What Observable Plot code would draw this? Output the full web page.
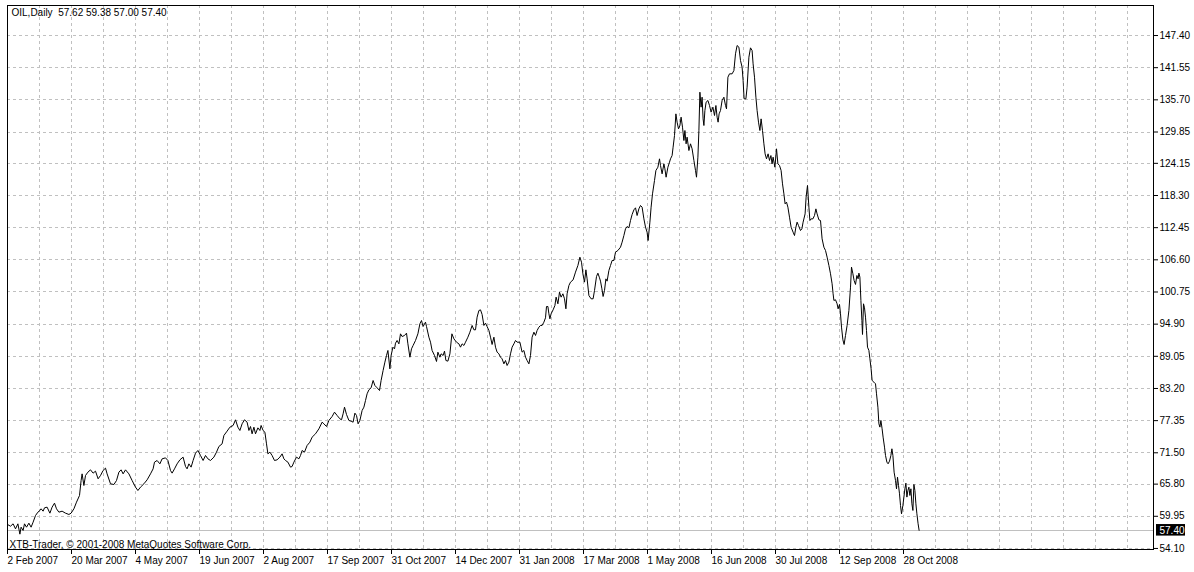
<!DOCTYPE html>
<html><head><meta charset="utf-8">
<script src="https://cdn.jsdelivr.net/npm/d3@7"></script>
<script src="https://cdn.jsdelivr.net/npm/@observablehq/plot@0.6"></script>
<style>html,body{margin:0;padding:0;background:#fff;} #chart svg{display:block}</style>
</head><body><div id="chart"></div>
<script>
const symbol = "OIL,Daily";
const lastOHLC = [57.62, 59.38, 57.00, 57.40];
const copyright = "XTB-Trader, © 2001-2008 MetaQuotes Software Corp.";
const priceTicks = [147.40, 141.55, 135.70, 129.85, 124.15, 118.30, 112.45, 106.60, 100.75, 94.90, 89.05, 83.20, 77.35, 71.50, 65.80, 59.95, 54.10];
const dateTickBars = [0, 32, 64, 96, 128, 160, 192, 224, 256, 288, 320, 352, 384, 416, 448];
const dateTickLabels = ["2 Feb 2007", "20 Mar 2007", "4 May 2007", "19 Jun 2007", "2 Aug 2007", "17 Sep 2007", "31 Oct 2007", "14 Dec 2007", "31 Jan 2008", "17 Mar 2008", "1 May 2008", "16 Jun 2008", "30 Jul 2008", "12 Sep 2008", "28 Oct 2008"];

// bar number (trading day counted from 2 Feb 2007) and daily close
const barIndex = [
0,1.5,2.8,4,5.2,6.2,6.8,7.8,8.5,9.5,10.7,11.8,12.8,14,15.2,16.2,16.8,17.8,18.5,19.8,21.2,22.3,23.5,24.5,25.7,27.3,29,30.7,31.8,33.2,34.5,36,36.8,37.3,38.2,39,40.2,41.5,42.8,44,45.3,46.5,47.8,49,49.8,51.5,53.2,54.5,55.7,56.8,57.8,59,60.7,62.3,64,65.2,66.5,68.2,69.8,71.5,72.8,73.5,74.8,76.2,77.3,79,80.2,81.5,82.3,83.5,84.8,86.2,87.8,89,89.8,90.7,91.8,92.8,94,95.2,96.5,97.8,99,100.2,101.5,103.2,104.5,105.7,107.3,108.2,109.8,111.2,
112.8,114,115.2,116.2,117.3,118.5,119.8,120.7,121.5,122.3,123.2,124,125.2,126.2,126.8,127.8,128.7,129.5,130.2,131.2,132.3,133.5,134.8,136.2,137.3,138.2,139,140.2,141.5,142.3,143.2,144.5,145.7,146.5,147.3,148.5,149.8,151.2,152.3,154,155.7,157.3,158.2,159.5,160.7,162.3,163.5,164.8,166.2,167,167.8,168.5,169.5,170.7,171.8,172.8,173.7,174.5,175.3,176.2,177.3,178.2,179,179.8,180.7,181.8,182.8,183.7,184.8,186,186.8,187.8,188.7,189.5,190.2,191.2,191.8,192.7,193.5,194,194.8,195.7,196.5,197.3,198.5,199.5,200.2,201.2,202,202.8,204,205.2,206.2,207,207.8,209,209.5,210.7,211.5,212.3,213.5,214.5,215.2,216.2,216.8,217.8,218.5,219.2,220.2,221.2,222.2,223.2,224.5,225.7,
226.5,227.3,228.2,229,230.2,231.2,232.3,233.2,234,234.8,235.7,236.5,237.3,238.2,239,239.8,240.7,241.5,242.3,243.2,244,244.8,245.7,246.5,247.3,248.2,249,249.8,250.7,251.5,252.3,253.2,254,254.8,256.2,257.3,258.2,259,259.8,260.7,261.5,262.3,263.2,264,264.8,265.7,266.5,267.3,268.2,269,269.5,270.2,270.7,271.2,271.8,272.8,273.7,274.3,275.2,276,276.8,277.7,278.5,279.2,279.8,280.7,281.5,282.8,284,285.2,286.2,287,287.7,288.5,289.2,289.8,290.7,291.8,292.8,293.5,294.5,295.2,296,296.5,297.2,297.8,298.5,299.2,299.8,300.7,301.5,302.3,303.2,304,305.2,306.5,307.3,308.2,309,309.8,310.7,311.5,312.3,313.2,314,314.8,315.7,
316.5,317.3,318.2,319,319.8,320.3,321.2,321.8,322.5,323.5,324.2,325.2,326,326.5,327.3,328.2,328.7,329.3,330.2,331,331.5,332.3,332.8,333.5,334.2,334.8,335.5,336.2,336.8,337.5,338.2,338.7,339.3,339.8,340.7,341.5,342.3,343.2,344,344.5,345.2,345.7,346.2,346.8,347.3,347.8,348.2,348.7,349.3,350.2,351,351.8,352.7,353.5,354.2,354.8,355.3,355.8,356.5,357.3,358.2,359,359.5,360.2,361,362.3,363.2,364,364.8,365.7,366.5,367.3,367.8,368.3,369.2,369.8,370.7,371.5,372.3,372.8,373.5,374.2,374.8,375.5,376.2,376.8,377.5,378.2,378.8,379.5,380.3,381,381.7,382.3,382.8,383.7,384.5,385.2,386,386.8,387.5,388.2,388.8,389.5,390.2,391,391.8,392.8,393.5,394.2,394.8,395.5,396.5,397.2,397.8,398.8,399.3,400,400.7,401.2,401.8,402.7,403.5,404.2,404.8,405.7,406.5,407.3,408.2,
409,409.8,410.7,411.5,412.3,412.8,413.2,414,414.8,415.3,416,416.5,417,417.7,418.3,419,419.8,420.7,421.5,422,422.7,423.3,424,424.7,425.3,425.7,426.2,426.7,427.2,427.5,428,428.5,429,429.5,430,430.7,431.2,431.8,432.3,433.2,434,434.5,435.2,435.7,436.2,436.7,437.3,437.8,438.5,439,439.7,440.3,441,441.7,442.2,442.7,443.3,444,444.5,445,445.5,446,446.5,447,447.7,448.2,448.7,449.2,449.7,450.2,450.7,451.2,451.7,452.2,452.7,453.2,453.7,454.2,454.7,455.3,455.8
];
const closePrice = [
58.46,58.15,58.58,57.67,58.58,56.7,57.97,57.37,58.58,57.97,58.70,57.97,58.88,60.09,60.70,61.0,61.31,60.88,61.49,61.61,60.52,61.61,62.34,61.31,60.70,60.88,60.52,60.28,60.52,61.31,62.52,63.73,66.46,67.67,65.55,67.37,67.98,68.40,67.80,68.16,66.77,67.37,68.28,68.71,67.67,65.86,65.73,66.46,67.98,68.40,67.67,68.40,67.67,66.46,65.25,64.64,65.25,65.86,66.58,67.67,68.58,69.80,70.10,69.49,70.40,70.58,70.10,68.28,67.80,68.58,69.49,70.22,70.71,69.01,68.58,69.49,68.89,70.10,71.43,71.92,71.01,70.10,71.01,70.40,70.10,70.71,71.62,72.65,73.13,74.65,75.44,76.16,
76.47,77.50,76.16,75.56,76.77,77.50,77.07,75.56,76.28,74.95,76.16,74.95,76.04,75.56,76.47,75.56,75.25,73.13,71.31,71.62,71.01,70.10,70.22,70.71,71.31,70.40,70.10,69.80,68.89,69.01,69.80,70.71,70.40,71.01,71.92,71.62,72.83,73.43,74.34,74.95,75.86,77.07,76.77,76.28,77.38,78.10,78.89,78.29,77.68,77.50,78.59,79.80,78.47,77.38,77.25,77.07,78.71,78.29,76.77,77.38,79.19,79.80,81.01,82.23,82.95,83.32,84.65,83.74,83.32,82.83,84.65,86.47,87.99,89.20,90.11,86.77,89.20,90.71,90.41,91.44,91.93,91.32,93.14,92.65,92.84,93.26,91.32,88.89,90.41,91.02,91.93,93.14,94.96,95.56,94.47,95.26,94.47,92.53,91.62,90.11,89.20,88.11,89.80,88.89,89.50,89.20,89.99,88.29,88.17,89.50,93.14,92.23,91.62,91.32,
90.71,91.32,91.02,91.62,92.53,93.44,94.66,93.87,93.87,96.17,97.38,97.50,96.66,94.66,95.08,94.47,93.75,92.53,91.20,92.53,90.71,89.81,89.50,88.90,88.59,87.68,88.29,87.38,87.99,89.50,90.71,91.32,91.93,91.62,91.62,89.81,90.11,88.90,88.29,87.68,89.20,92.53,93.44,92.84,93.75,94.35,94.66,94.66,95.26,96.05,98.11,98.11,96.78,95.87,96.78,97.50,98.29,99.81,98.60,100.72,99.81,100.42,99.51,97.69,100.42,101.93,102.54,102.96,104.36,105.57,107.08,106.17,104.05,102.54,104.78,103.14,100.11,99.51,99.51,101.02,103.57,104.17,103.33,102.72,101.33,99.93,101.02,103.14,102.72,104.66,105.57,106.48,106.48,107.99,108.30,108.90,109.81,111.03,112.24,112.66,112.42,113.75,114.84,115.69,116.06,114.66,115.88,
116.48,116.18,114.05,112.54,111.63,110.11,113.45,116.18,118.60,121.03,122.85,123.45,124.97,123.76,122.24,124.06,123.15,121.63,123.45,124.36,124.97,125.57,127.09,129.21,133.15,131.64,130.42,131.03,132.55,130.73,128.30,130.12,127.70,128.91,126.48,127.70,126.79,124.67,122.85,121.63,125.27,130.12,137.09,134.37,136.18,132.24,131.03,133.76,135.27,135.58,134.67,133.46,134.37,132.85,134.67,132.55,131.64,133.15,133.76,135.58,136.18,134.67,134.06,139.82,140.43,140.43,141.03,144.07,145.58,145.28,142.85,141.64,139.22,135.88,135.88,138.00,143.46,145.16,144.67,142.25,139.82,136.18,133.76,131.64,130.12,132.24,130.12,127.70,125.88,124.97,125.88,124.67,125.57,124.06,125.27,123.45,126.79,124.06,123.76,122.85,120.42,118.60,116.78,117.09,116.18,114.36,112.54,111.63,111.02,112.54,113.45,112.84,111.93,112.24,113.45,114.96,117.99,120.12,116.18,113.75,114.05,114.05,114.66,115.87,114.96,113.87,113.75,110.42,108.90,
108.30,107.09,105.57,104.06,102.24,100.42,99.21,99.33,98.60,97.69,98.48,96.78,94.36,92.05,91.20,92.84,94.66,97.39,101.63,105.27,104.06,102.84,102.12,103.75,103.15,104.18,103.45,99.21,95.57,93.02,98.60,97.87,96.17,93.75,90.72,90.11,88.60,86.78,84.66,84.35,84.05,82.23,79.80,76.77,76.17,77.38,75.86,74.35,72.53,71.01,69.80,69.50,69.98,71.01,72.23,71.01,67.98,66.47,64.95,67.07,65.56,64.04,61.92,60.40,61.92,63.44,64.95,65.98,63.44,64.65,65.25,63.74,64.95,62.22,61.01,65.74,64.65,62.22,60.40,58.59,57.40
];

const data = barIndex.map((b, i) => ({bar: b, close: closePrice[i]}));
const lastClose = lastOHLC[3];
const gridBars = d3.range(16, 573, 16);
const infoText = `${symbol}\u00a0\u00a0${lastOHLC.map(v => v.toFixed(2)).join(" ")}`;
const gridStyle = {stroke: "#c0c0c0", strokeDasharray: "3,3", shapeRendering: "crispEdges"};

const chart = Plot.plot({
  width: 1194,
  height: 572,
  marginLeft: 7,
  marginRight: 41,
  marginTop: 5,
  marginBottom: 23,
  style: {fontFamily: "'Liberation Sans', Arial, sans-serif", fontSize: "10px", background: "#fff", color: "#000", overflow: "visible"},
  x: {type: "linear", domain: [0, 573]},
  y: {type: "linear", domain: [53.91, 152.86]},
  marks: [
    Plot.ruleX(gridBars, gridStyle),
    Plot.ruleY(priceTicks, gridStyle),
    Plot.ruleY([lastClose], {stroke: "#c0c0c0", shapeRendering: "crispEdges"}),
    Plot.line(data, {x: "bar", y: "close", stroke: "#000", strokeWidth: 1}),
    Plot.frame({stroke: "#000", shapeRendering: "crispEdges"}),
    Plot.axisY(priceTicks, {anchor: "right", tickFormat: d => d.toFixed(2), tickSize: 4, tickPadding: 2, label: null}),
    Plot.axisX(dateTickBars, {anchor: "bottom", tickFormat: d => dateTickLabels[dateTickBars.indexOf(d)], textAnchor: "start", tickSize: 5, tickPadding: 2, label: null}),
    Plot.text([infoText], {frameAnchor: "top-left", text: d => d, textAnchor: "start", lineAnchor: "top", dx: 4, dy: 3, fill: "#000"}),
    Plot.text([copyright], {frameAnchor: "bottom-left", text: d => d, textAnchor: "start", lineAnchor: "bottom", dx: 2, dy: -2, fill: "#000"}),
    Plot.rect([lastClose], {x1: 573, x2: 573, y1: d => d - 1.05, y2: d => d + 1.05, insetLeft: 3, insetRight: -32, fill: "#000"}),
    Plot.text([lastClose], {y: d => d, frameAnchor: "right", text: d => d.toFixed(2), textAnchor: "start", dx: 6, fill: "#fff"})
  ]
});
document.getElementById("chart").appendChild(chart);
</script>
</body></html>
